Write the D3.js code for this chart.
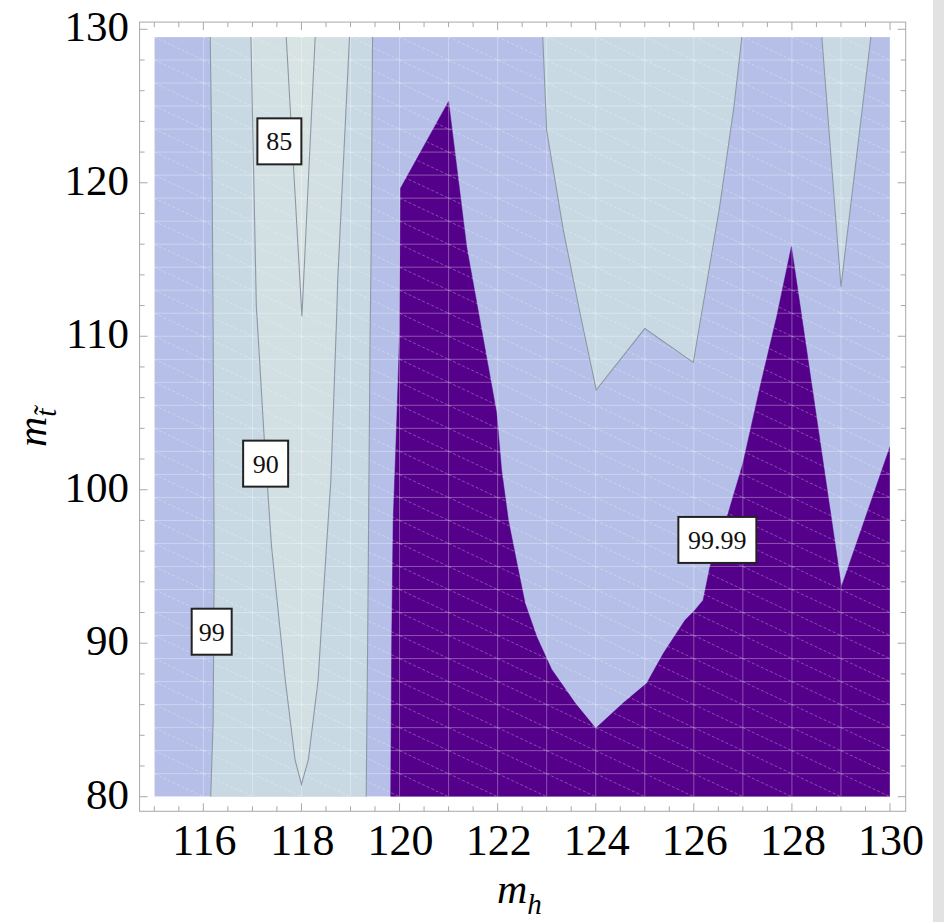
<!DOCTYPE html>
<html><head><meta charset="utf-8">
<script src="https://cdn.jsdelivr.net/npm/d3@7"></script>
<style>body{margin:0;background:#fff}</style>
</head><body>
<svg id="c" width="944" height="922"></svg>
<script>
// ---------- data ----------
const xTicks = [116,118,120,122,124,126,128,130];
const yTicks = [80,90,100,110,120,130];
const xGrid = [115,116,117,118,119,120,121,122,123,124,125,126,127,128,129,130];
const yGrid = [80,81.5,83,84.5,86,87.5,89,90.5,92,93.5,95,96.5,98,99.5,101,102.5,104,105.5,107,108.5,110,111.5,113,114.5,116,117.5,119,120.5,122,123.5,125,126.5,128,129.5];

// contour level 99 (left, nearly vertical)
const contour99Left = [[116.14,129.5],[116.18,120],[116.2,110],[116.22,95],[116.2,85],[116.15,80]];
// contour level 99 (right of the V)
const contour99Mid = [[119.45,129.5],[119.42,115],[119.4,110],[119.35,90],[119.32,80]];
// contour level 99 (top-right region)
const contour99TR = [[122.92,129.5],[123.0,123.4],[123.34,116.9],[123.68,111.5],[124.01,106.5],[125.0,110.5],[125.99,108.3],[126.16,111.5],[126.53,118.5],[126.82,125],[126.98,129.5]];
// contour level 99 (small V at 129)
const contour99V129 = [[128.61,129.5],[129.0,113.2],[129.61,129.5]];
// contour level 90 (outer V)
const contour90V = [[116.97,129.5],[117.08,112],[117.24,103.4],[117.39,96.3],[117.67,87.6],[117.87,82.4],[118.0,80.8],[118.14,82.4],[118.34,87.6],[118.51,96.3],[118.6,100.6],[118.72,111.5],[118.74,113.7],[118.98,129.5]];
// contour level 85 (inner V)
const contour85V = [[117.69,129.5],[118.01,111.3],[118.28,129.5]];
// contour level 99.99 (dark region boundary)
const contour9999 = [[119.82,80],[119.84,90],[119.87,98],[119.93,103.2],[120.0,110],[120.02,119.64],[121.0,125.3],[121.37,115.8],[121.98,105.0],[122.08,101.3],[122.22,98.0],[122.42,94.8],[122.56,92.6],[122.8,90.4],[123.1,88.3],[123.58,86.1],[124.0,84.46],[124.56,86.1],[125.04,87.39],[125.38,89.34],[125.82,91.5],[126.02,92.15],[126.19,92.8],[126.33,95.0],[126.7,98.46],[127.0,101.7],[127.35,106.7],[127.69,111.27],[127.99,115.84],[129.01,93.68],[130,102.8],[130,80]];

const contourLabels = [
  {text:"85", x:117.55, y:122.7, w:44},
  {text:"90", x:117.27, y:101.7, w:45},
  {text:"99", x:116.17, y:90.75, w:40},
  {text:"99.99", x:126.48, y:96.73, w:78}
];

// ---------- drawing ----------
const svg = d3.select("#c");
const x = d3.scaleLinear().domain([115,130]).range([154.3,890]);
const y = d3.scaleLinear().domain([80,130]).range([796.7,29.3]);
const line = d3.line().x(d=>x(d[0])).y(d=>y(d[1]));
const xMin = xGrid[0], xMax = xGrid[xGrid.length-1];
const yMin = yGrid[0], yMax = yGrid[yGrid.length-1];

const C = {lav:"#b5bfe8", gb:"#c8d9e3", pale:"#d2dfe3", palest:"#d8e3e3", purple:"#55008a", line:"#8e97a6"};

svg.append("rect").attr("width",944).attr("height",922).attr("fill","#fff");
svg.append("rect").attr("x",933).attr("y",0).attr("width",11).attr("height",922).attr("fill","#e2e2e2");

svg.append("defs").append("clipPath").attr("id","clip").append("rect")
  .attr("x",x(xMin)).attr("y",y(yMax)).attr("width",x(xMax)-x(xMin)).attr("height",y(yMin)-y(yMax));

const g = svg.append("g").attr("clip-path","url(#clip)");
g.append("rect").attr("x",x(xMin)).attr("y",y(yMax)).attr("width",x(xMax)-x(xMin)).attr("height",y(yMin)-y(yMax)).attr("fill",C.lav);

function poly(pts, fill){ g.append("path").attr("d", line(pts)+"Z").attr("fill",fill).attr("stroke",fill).attr("stroke-width",0.5); }
poly(contour99Left.concat(contour99Mid.slice().reverse()), C.gb);
poly(contour99TR, C.gb);
poly(contour99V129, C.gb);
poly(contour90V, C.pale);
poly(contour85V, C.palest);
poly(contour9999, C.purple);

// mesh
const mesh = g.append("g").attr("stroke","#fff").attr("stroke-opacity",0.32).attr("stroke-width",1).attr("fill","none");
xGrid.forEach(v=>mesh.append("line").attr("x1",x(v)).attr("x2",x(v)).attr("y1",y(yMin)).attr("y2",y(yMax)));
yGrid.forEach(v=>mesh.append("line").attr("y1",y(v)).attr("y2",y(v)).attr("x1",x(xMin)).attr("x2",x(xMax)));
const diag = g.append("g").attr("stroke","#fff").attr("stroke-opacity",0.3).attr("stroke-width",1).attr("stroke-dasharray","3,2");
for(let i=0;i<xGrid.length-1;i++){
  for(let j=0;j<yGrid.length-1;j++){
    diag.append("line").attr("x1",x(xGrid[i])).attr("y1",y(yGrid[j+1])).attr("x2",x(xGrid[i+1])).attr("y2",y(yGrid[j]));
  }
}

// contour lines
[contour99Left, contour99Mid, contour99TR, contour99V129, contour90V, contour85V].forEach(c=>{
  g.append("path").attr("d",line(c)).attr("fill","none").attr("stroke",C.line).attr("stroke-width",1.1);
});

// labels
contourLabels.forEach(l=>{
  const cx=x(l.x), cy=y(l.y);
  svg.append("rect").attr("x",cx-l.w/2).attr("y",cy-23).attr("width",l.w).attr("height",46)
    .attr("fill","#fff").attr("stroke","#222").attr("stroke-width",2);
  svg.append("text").attr("x",cx).attr("y",cy+9).attr("text-anchor","middle")
    .attr("font-family","Liberation Serif, Times New Roman, serif").attr("font-size",26).attr("fill","#111").text(l.text);
});

// frame
const fx0 = x(114.7), fx1 = x(130.32), fy0 = y(130.47), fy1 = y(79.05);
const frame = svg.append("g").attr("stroke","#a8a8a8").attr("stroke-width",1).attr("fill","none");
frame.append("rect").attr("x",fx0).attr("y",fy0).attr("width",fx1-fx0).attr("height",fy1-fy0);
const xMinor = d3.range(115,130.01,0.5).filter(v=>!xTicks.includes(v));
const yMinor = d3.range(80,130.01,2).filter(v=>!yTicks.includes(v));
function xt(v,len){
  frame.append("line").attr("x1",x(v)).attr("x2",x(v)).attr("y1",fy1).attr("y2",fy1-len);
  frame.append("line").attr("x1",x(v)).attr("x2",x(v)).attr("y1",fy0).attr("y2",fy0+len);
}
function yt(v,len){
  frame.append("line").attr("y1",y(v)).attr("y2",y(v)).attr("x1",fx0).attr("x2",fx0+len);
  frame.append("line").attr("y1",y(v)).attr("y2",y(v)).attr("x1",fx1).attr("x2",fx1-len);
}
xTicks.forEach(v=>xt(v,8)); xMinor.forEach(v=>xt(v,5));
yTicks.forEach(v=>yt(v,8)); yMinor.forEach(v=>yt(v,5));

const font = "Liberation Serif, Times New Roman, serif";
xTicks.forEach(v=>svg.append("text").attr("x",x(v)+1).attr("y",855).attr("text-anchor","middle")
  .attr("font-family",font).attr("font-size",44).attr("fill","#000").text(v));
yTicks.forEach(v=>svg.append("text").attr("x",129).attr("y",y(v)+12).attr("text-anchor","end")
  .attr("font-family",font).attr("font-size",43).attr("fill","#000").text(v));

// axis titles
const xt1 = svg.append("text").attr("x",497).attr("y",903).attr("font-family",font).attr("font-style","italic").attr("font-size",42).attr("fill","#000");
xt1.append("tspan").text("m");
xt1.append("tspan").attr("dy",11).attr("font-size",29).text("h");

const yt1 = svg.append("text").attr("transform","translate(46,447) rotate(-90)").attr("font-family",font).attr("font-style","italic").attr("font-size",42).attr("fill","#000");
yt1.append("tspan").text("m");
yt1.append("tspan").attr("dy",10).attr("font-size",29).text("t\u0303");
</script>
</body></html>
